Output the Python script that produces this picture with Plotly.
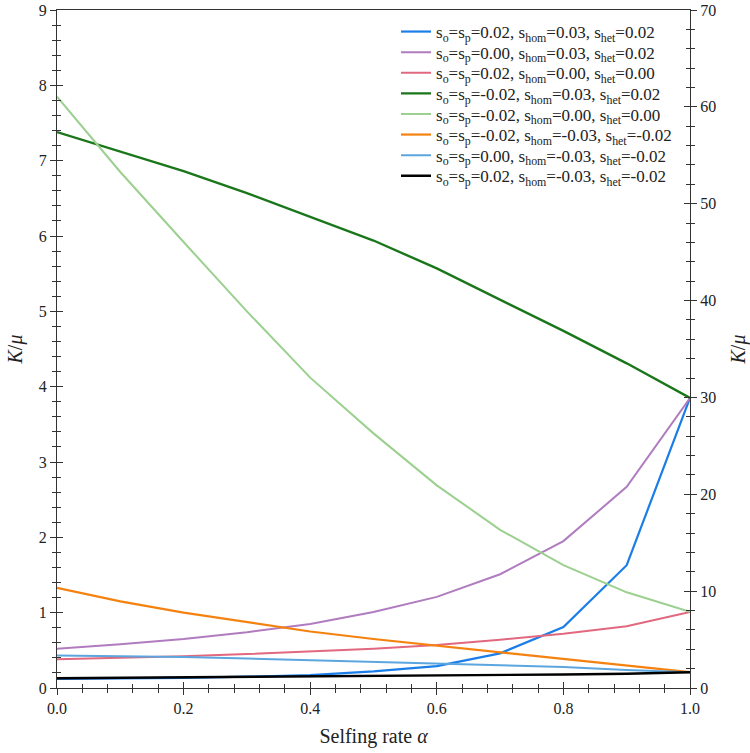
import plotly.graph_objects as go

alpha = [0.0, 0.1, 0.2, 0.3, 0.4, 0.5, 0.6, 0.7, 0.8, 0.9, 1.0]

names = [
    "s<sub>o</sub>=s<sub>p</sub>=0.02, s<sub>hom</sub>=0.03, s<sub>het</sub>=0.02",
    "s<sub>o</sub>=s<sub>p</sub>=0.00, s<sub>hom</sub>=0.03, s<sub>het</sub>=0.02",
    "s<sub>o</sub>=s<sub>p</sub>=0.02, s<sub>hom</sub>=0.00, s<sub>het</sub>=0.00",
    "s<sub>o</sub>=s<sub>p</sub>=-0.02, s<sub>hom</sub>=0.03, s<sub>het</sub>=0.02",
    "s<sub>o</sub>=s<sub>p</sub>=-0.02, s<sub>hom</sub>=0.00, s<sub>het</sub>=0.00",
    "s<sub>o</sub>=s<sub>p</sub>=-0.02, s<sub>hom</sub>=-0.03, s<sub>het</sub>=-0.02",
    "s<sub>o</sub>=s<sub>p</sub>=0.00, s<sub>hom</sub>=-0.03, s<sub>het</sub>=-0.02",
    "s<sub>o</sub>=s<sub>p</sub>=0.02, s<sub>hom</sub>=-0.03, s<sub>het</sub>=-0.02",
]

blue = [0.12, 0.125, 0.135, 0.15, 0.17, 0.22, 0.29, 0.46, 0.81, 1.63, 3.85]
purple = [0.52, 0.58, 0.65, 0.74, 0.85, 1.01, 1.21, 1.51, 1.95, 2.67, 3.85]
pink = [0.38, 0.40, 0.42, 0.45, 0.48, 0.52, 0.57, 0.64, 0.72, 0.82, 1.01]
dark_green = [7.38, 7.12, 6.86, 6.57, 6.26, 5.94, 5.57, 5.16, 4.74, 4.31, 3.85]
light_green = [7.85, 6.85, 5.92, 5.00, 4.12, 3.38, 2.69, 2.10, 1.63, 1.27, 1.01]
orange = [1.33, 1.15, 1.00, 0.87, 0.75, 0.65, 0.56, 0.47, 0.38, 0.29, 0.21]
light_blue = [0.43, 0.42, 0.41, 0.39, 0.37, 0.35, 0.33, 0.31, 0.28, 0.24, 0.21]
black = [0.13, 0.135, 0.14, 0.145, 0.15, 0.155, 0.16, 0.17, 0.18, 0.19, 0.21]

series = [blue, purple, pink, dark_green, light_green, orange, light_blue, black]
colors = ["#1b7ee8", "#b07cbf", "#e2687f", "#1a761a", "#9bd08f", "#f5810f", "#5ca6df", "#000000"]
widths = [2.2, 2.0, 2.0, 2.4, 2.0, 2.2, 2.0, 2.4]

x_range = [0, 1]
left_range = [0, 9]
right_range = [0, 70]

FONT = "Times New Roman, Liberation Serif, serif"
AX = "#333"

W, H = 750, 753
ML, MR, MT, MB = 57, 60, 10, 65
PLOT_H = H - MT - MB
PLOT_W = W - ML - MR

# legend layout (pixels in page space)
LEG_LEFT = 396
LEG_ROW0 = 32
LEG_STEP = 20.6

fig = go.Figure()
for i, (name, ys, c, w) in enumerate(zip(names, series, colors, widths)):
    leg_id = "legend" if i == 0 else f"legend{i + 1}"
    fig.add_trace(go.Scatter(x=alpha, y=ys, mode="lines", name=name,
                             legend=leg_id, line=dict(color=c, width=w)))

# secondary scale on the right
fig.add_trace(go.Scatter(x=x_range, y=right_range, yaxis="y2",
                         mode="lines", line=dict(width=0), opacity=0,
                         showlegend=False, hoverinfo="skip"))
# helper traces for the inward half of the crossing ticks
fig.add_trace(go.Scatter(x=x_range, y=left_range, xaxis="x2", yaxis="y3",
                         mode="lines", line=dict(width=0), opacity=0,
                         showlegend=False, hoverinfo="skip"))
fig.add_trace(go.Scatter(x=x_range, y=right_range, xaxis="x2", yaxis="y4",
                         mode="lines", line=dict(width=0), opacity=0,
                         showlegend=False, hoverinfo="skip"))


def ax(ticks, major_len, minor_dtick, minor_len, labels=True):
    return dict(showgrid=False, zeroline=False, showline=True, linecolor=AX,
                linewidth=1.2, ticks=ticks, tickcolor=AX, tickwidth=1.2,
                ticklen=major_len, automargin=False, showticklabels=labels,
                tickfont=dict(family=FONT, size=16, color="#222"),
                minor=dict(dtick=minor_dtick, ticks=ticks, ticklen=minor_len,
                           tickcolor=AX, tickwidth=1.2))


title_font = dict(family=FONT, size=20, color="#222")

legends = {}
for i in range(len(names)):
    key = "legend" if i == 0 else f"legend{i + 1}"
    yc = LEG_ROW0 + i * LEG_STEP
    legends[key] = dict(x=(LEG_LEFT - ML) / PLOT_W, y=1 - (yc - MT) / PLOT_H,
                        xanchor="left", yanchor="middle",
                        bgcolor="rgba(0,0,0,0)", borderwidth=0,
                        font=dict(family=FONT, size=17, color="#222"),
                        itemwidth=30)

fig.update_layout(
    width=W, height=H,
    margin=dict(l=ML, r=MR, t=MT, b=MB),
    paper_bgcolor="white", plot_bgcolor="white",
    font=dict(family=FONT, size=16, color="#222"),
    xaxis=dict(range=x_range, dtick=0.2, tickformat=".1f", mirror=True,
               title=dict(text="Selfing rate <i>α</i>", font=title_font, standoff=12),
               **ax("outside", 6, 0.04, 4)),
    xaxis2=dict(range=x_range, dtick=0.2, overlaying="x", anchor="y3",
                **ax("inside", 6, 0.04, 4, labels=False)),
    yaxis=dict(range=left_range, dtick=1,
               title=dict(text="<i>K</i>/<i>μ</i>", font=title_font, standoff=10),
               **ax("outside", 6, 0.2, 4)),
    yaxis3=dict(range=left_range, dtick=1, overlaying="y", anchor="x2",
                **ax("inside", 6, 0.2, 4, labels=False)),
    yaxis2=dict(range=right_range, dtick=10, overlaying="y", side="right",
                title=dict(text="<i>K</i>/<i>μ</i>", font=title_font, standoff=20),
                **ax("outside", 6, 2, 4)),
    yaxis4=dict(range=right_range, dtick=10, overlaying="y", side="right", anchor="x2",
                **ax("inside", 6, 2, 4, labels=False)),
    showlegend=True,
    **legends,
)

fig.write_html("out.html", config={"displayModeBar": False},
               post_script="document.body.style.margin='0';")
